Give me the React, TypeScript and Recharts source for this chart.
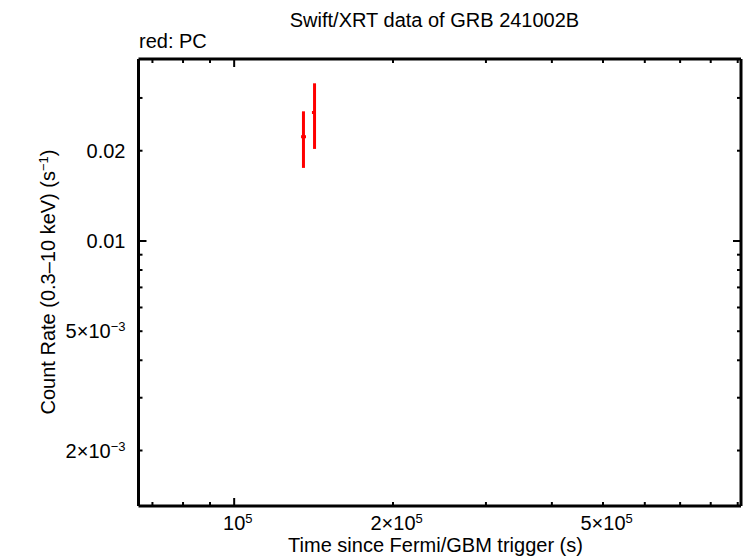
import { ScatterChart, Scatter, XAxis, YAxis, ErrorBar } from "recharts";

// PC mode points
const TIME = [135300, 142000];
const TIME_LO = [133900, 140400];
const TIME_HI = [136800, 142900];
const RATE = [0.02227, 0.02683];
const RATE_LO = [0.01753, 0.02028];
const RATE_HI = [0.02707, 0.03357];

const X_TICKS = [70000, 80000, 90000, 100000, 200000, 300000, 400000, 500000, 600000, 700000, 800000, 900000];
const X_MAJOR = [100000];
const X_LABELLED = [100000, 200000, 500000];
const X_LABEL_MAIN = ["10", "2×10", "5×10"];
const X_LABEL_EXP = ["5", "5", "5"];

const Y_TICKS = [0.002, 0.003, 0.004, 0.005, 0.006, 0.007, 0.008, 0.009, 0.01, 0.02, 0.03];
const Y_MAJOR = [0.01];
const Y_LABELLED = [0.02, 0.01, 0.005, 0.002];
const Y_LABEL_MAIN = ["0.02", "0.01", "5×10", "2×10"];
const Y_LABEL_EXP = ["", "", "−3", "−3"];

const X_DOMAIN = [65870, 913000];
const Y_DOMAIN = [0.001306, 0.04046];

const FONT = '"Liberation Sans", Arial, Helvetica, sans-serif';
const RED = "#ff0000";

const data = TIME.map((t, i) => ({
  t,
  rate: RATE[i],
  xErr: [t - TIME_LO[i], TIME_HI[i] - t],
  yErr: [RATE[i] - RATE_LO[i], RATE_HI[i] - RATE[i]],
}));

function BottomTick({ x, y, payload }: any) {
  const v = payload.value;
  const len = X_MAJOR.includes(v) ? 8 : 4;
  const i = X_LABELLED.indexOf(v);
  return (
    <g>
      <line x1={x} y1={y} x2={x} y2={y - len} stroke="#000" strokeWidth={2} />
      {i >= 0 && (
        <text x={x + 3.6} y={y + 24} textAnchor="middle" fontSize={20} fill="#000" fontFamily={FONT}>
          {X_LABEL_MAIN[i]}
          <tspan fontSize={13} dy={-7}>{X_LABEL_EXP[i]}</tspan>
        </text>
      )}
    </g>
  );
}

function TopTick({ x, y, payload }: any) {
  const len = X_MAJOR.includes(payload.value) ? 8 : 4;
  return <line x1={x} y1={y} x2={x} y2={y + len} stroke="#000" strokeWidth={2} />;
}

function LeftTick({ x, y, payload }: any) {
  const v = payload.value;
  const len = Y_MAJOR.includes(v) ? 8 : 4;
  const i = Y_LABELLED.indexOf(v);
  return (
    <g>
      <line x1={x} y1={y} x2={x + len} y2={y} stroke="#000" strokeWidth={2} />
      {i >= 0 && (
        <text x={x - 13} y={y + 7} textAnchor="end" fontSize={20} fill="#000" fontFamily={FONT}>
          {Y_LABEL_MAIN[i]}
          {Y_LABEL_EXP[i] && <tspan fontSize={13} dy={-7}>{Y_LABEL_EXP[i]}</tspan>}
        </text>
      )}
    </g>
  );
}

function RightTick({ x, y, payload }: any) {
  const len = Y_MAJOR.includes(payload.value) ? 8 : 4;
  return <line x1={x} y1={y} x2={x - len} y2={y} stroke="#000" strokeWidth={2} />;
}

const axisLine = { stroke: "#000", strokeWidth: 3 };

export default function App() {
  return (
    <div style={{ position: "absolute", left: 0, top: 0, background: "#fff" }}>
      <ScatterChart width={746} height={558} margin={{ top: 58, right: 4, bottom: 0, left: 0 }}>
        <XAxis
          type="number"
          dataKey="t"
          scale="log"
          domain={X_DOMAIN}
          allowDataOverflow
          ticks={X_TICKS}
          interval={0}
          height={52}
          tickSize={0}
          tickMargin={0}
          tickLine={false}
          axisLine={axisLine}
          tick={BottomTick}
        />
        <XAxis
          xAxisId="top"
          orientation="top"
          type="number"
          dataKey="t"
          scale="log"
          domain={X_DOMAIN}
          allowDataOverflow
          ticks={X_TICKS}
          interval={0}
          height={1}
          tickSize={0}
          tickMargin={0}
          tickLine={false}
          axisLine={axisLine}
          tick={TopTick}
        />
        <YAxis
          type="number"
          dataKey="rate"
          scale="log"
          domain={Y_DOMAIN}
          allowDataOverflow
          ticks={Y_TICKS}
          interval={0}
          width={138.5}
          tickSize={0}
          tickMargin={0}
          tickLine={false}
          axisLine={axisLine}
          tick={LeftTick}
        />
        <YAxis
          yAxisId="right"
          orientation="right"
          type="number"
          dataKey="rate"
          scale="log"
          domain={Y_DOMAIN}
          allowDataOverflow
          ticks={Y_TICKS}
          interval={0}
          width={1}
          tickSize={0}
          tickMargin={0}
          tickLine={false}
          axisLine={axisLine}
          tick={RightTick}
        />
        <Scatter data={data} fill={RED} shape={() => <g />} isAnimationActive={false}>
          <ErrorBar dataKey="yErr" direction="y" width={0} stroke={RED} strokeWidth={3} isAnimationActive={false} />
          <ErrorBar dataKey="xErr" direction="x" width={0} stroke={RED} strokeWidth={3} isAnimationActive={false} />
        </Scatter>
        {/* hidden twin so the mirrored frame axes get drawn */}
        <Scatter
          data={data}
          xAxisId="top"
          yAxisId="right"
          shape={() => <g />}
          legendType="none"
          isAnimationActive={false}
        />
        <text x={434.5} y={27} textAnchor="middle" fontSize={20} fill="#000" fontFamily={FONT}>
          Swift/XRT data of GRB 241002B
        </text>
        <text x={139} y={48} fontSize={20} fill="#000" fontFamily={FONT}>
          red: PC
        </text>
        <text x={435.5} y={552} textAnchor="middle" fontSize={20} fill="#000" fontFamily={FONT}>
          Time since Fermi/GBM trigger (s)
        </text>
        <text transform="translate(55,282) rotate(-90)" textAnchor="middle" fontSize={20} fill="#000" fontFamily={FONT}>
          Count Rate (0.3–10 keV) (s
          <tspan fontSize={13} dy={-7}>−1</tspan>
          <tspan dy={7}>)</tspan>
        </text>
      </ScatterChart>
    </div>
  );
}
